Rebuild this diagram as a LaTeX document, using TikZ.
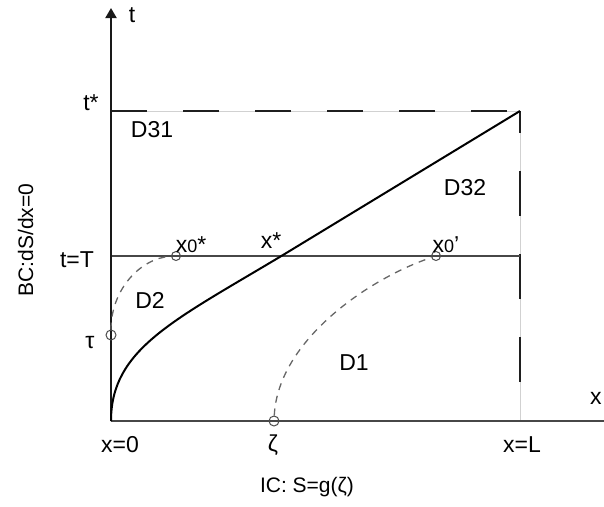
\documentclass[tikz,border=0pt]{standalone}
\usepackage{fontspec}
\setmainfont{Liberation Sans}
\usetikzlibrary{arrows.meta}
\begin{document}
\begin{tikzpicture}[x=1pt,y=-1pt,
  lbl/.style={font=\fontsize{23}{26}\selectfont, inner sep=0pt, anchor=base},
  axisline/.style={line width=2pt, draw=black!90},
  graylinew/.style={line width=2.2pt, draw=black!72},
  bigdash/.style={line width=2.6pt, draw=black!88},
  underlay/.style={line width=0.8pt, draw=black!18},
  charc/.style={line width=1.3pt, draw=black!60, dash pattern=on 7pt off 6pt},
  mark circle/.style={circle, draw=black!70, line width=1pt, minimum size=10pt, inner sep=0pt}]
\useasboundingbox (0,0) rectangle (604,506);
% key points
\coordinate (O) at (111,421);
\coordinate (Ttop) at (111,8);
\coordinate (Xend) at (604,421);
\coordinate (tstar) at (111,111);
\coordinate (C) at (520,111);
\coordinate (L) at (520,421);
\coordinate (T0) at (111,256);
\coordinate (TL) at (520,256);
\coordinate (xs) at (283,255);
% dashed boundary
\draw[underlay] (tstar) -- (C) -- (L);
\draw[bigdash, dash pattern=on 36pt off 36pt] (tstar) -- (C);
\draw[bigdash, dash pattern=on 45pt off 38pt, dash phase=23pt] (C) -- (L);
% t = T line
\draw[graylinew] (T0) -- (TL);
% x axis
\draw[graylinew] (O) -- (Xend);
% t axis
\draw[axisline, -{Triangle[width=11pt,length=10pt]}] (O) -- (Ttop);
% free boundary curve
\draw[line width=2pt, black] (O) .. controls (111,349) and (173,321) .. (xs) -- (C);
% characteristic marks
\node[mark circle] (tau) at (111,335) {};
\node[mark circle, minimum size=9pt] (x0s) at (176,256) {};
\node[mark circle] (zeta) at (274,421) {};
\node[mark circle, minimum size=9pt] (x0p) at (436,256) {};
\draw[charc] (tau) .. controls (111,290) and (140,258) .. (x0s);
\draw[charc] (zeta) .. controls (278,340) and (370,278) .. (x0p);
% labels
\node[lbl] (lt) at (132,22) {t};
\node[lbl] (ltstar) at (91,110) {t*};
\node[lbl] (lD31) at (152,137) {D31};
\node[lbl] (lD32) at (465,195) {D32};
\node[lbl] (ltT) at (77,267) {t=T};
\node[lbl] (lx0s) at (191,252) {x{\fontsize{18}{18}\selectfont 0}*};
\node[lbl] (lxs) at (271,248) {x*};
\node[lbl] (lx0p) at (446,252) {x{\fontsize{18}{18}\selectfont 0}'};
\node[lbl] (lD2) at (150,308) {D2};
\node[lbl] (ltau) at (90,348) {τ};
\node[lbl] (lD1) at (354,370) {D1};
\node[lbl] (lx0) at (120,452) {x=0};
\node[lbl] (lzeta) at (273,451) {ζ};
\node[lbl] (lxL) at (522,452) {x=L};
\node[lbl, font=\fontsize{21}{24}\selectfont] (lIC) at (307,492) {IC: S=g(ζ)};
\node[lbl, anchor=base west] (lx) at (590,404) {x};
\node[lbl, font=\fontsize{21}{24}\selectfont, rotate=90] (lBC) at (33,240) {BC:dS/dx=0};
\end{tikzpicture}
\end{document}
